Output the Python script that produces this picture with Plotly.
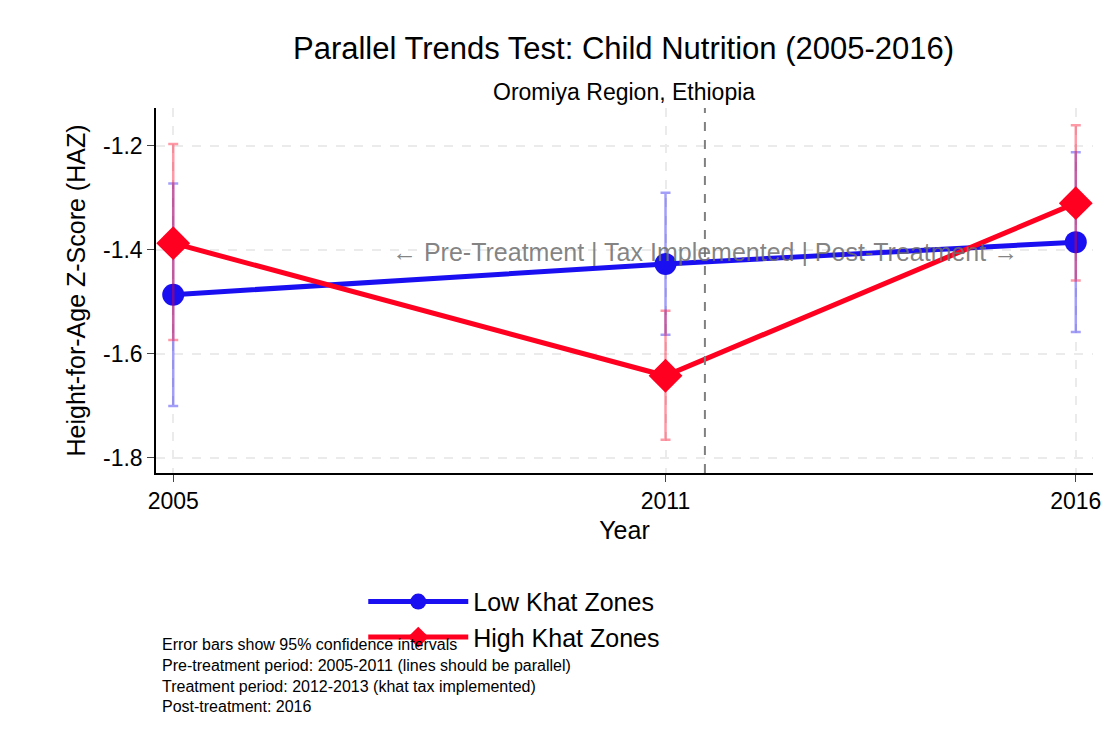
import plotly.graph_objects as go

years = [2005, 2011, 2016]
low_mean = [-1.486, -1.427, -1.385]
low_upper = [-1.272, -1.290, -1.212]
low_lower = [-1.700, -1.563, -1.558]
high_mean = [-1.387, -1.642, -1.310]
high_upper = [-1.196, -1.517, -1.160]
high_lower = [-1.573, -1.765, -1.459]

fig = go.Figure()


def add_series(mean, upper, lower, color, bar_color, symbol, size, name):
    fig.add_trace(go.Scatter(
        x=years, y=mean, mode="lines+markers", name=name,
        line=dict(color=color, width=5),
        marker=dict(color=color, symbol=symbol, size=size),
        error_y=dict(type="data", symmetric=False,
                     array=[u - m for u, m in zip(upper, mean)],
                     arrayminus=[m - l for m, l in zip(mean, lower)],
                     color=bar_color, thickness=2.5, width=5),
    ))


add_series(low_mean, low_upper, low_lower, "#1a0ff0", "rgba(26,15,240,0.4)",
           "circle", 22, "Low Khat Zones")
add_series(high_mean, high_upper, high_lower, "#ff0020", "rgba(255,0,32,0.4)",
           "diamond", 26, "High Khat Zones")

fig.add_vline(x=2011.48, line=dict(color="gray", dash="dash", width=2))
fig.add_annotation(x=2011.48, y=-1.404, text="← Pre-Treatment | Tax Implemented | Post-Treatment →",
                   showarrow=False, font=dict(size=25, color="rgba(110,110,110,0.85)"))

# titles (placed relative to plot area: left 148, width 937, top 100, height 365)
fig.add_annotation(x=0.499, xref="paper", y=1.164, yref="paper", text="Parallel Trends Test: Child Nutrition (2005-2016)",
                   showarrow=False, font=dict(size=31), yanchor="middle")
fig.add_annotation(x=0.499, xref="paper", y=1.044, yref="paper", text="Oromiya Region, Ethiopia",
                   showarrow=False, font=dict(size=23), yanchor="middle")

notes = ("Error bars show 95% confidence intervals<br>"
         "Pre-treatment period: 2005-2011 (lines should be parallel)<br>"
         "Treatment period: 2012-2013 (khat tax implemented)<br>"
         "Post-treatment: 2016")
fig.add_annotation(x=0.004, xref="paper", y=-0.44, yref="paper", text=notes, showarrow=False,
                   align="left", xanchor="left", yanchor="top", font=dict(size=16, color="black"))

fig.update_layout(
    width=1117, height=732, plot_bgcolor="white", paper_bgcolor="white",
    font=dict(family="Liberation Sans, Arial", color="black"),
    margin=dict(l=148, r=32, t=100, b=267, autoexpand=False),
    legend=dict(orientation="h", x=0.48, xanchor="center", y=-0.29, yanchor="top",
                font=dict(size=25), itemwidth=100, entrywidth=370),
    showlegend=True,
)
fig.update_xaxes(range=[2004.79, 2016.21], tickvals=years, ticks="outside", ticklen=7,
                 tickfont=dict(size=23), title=dict(text="Year", font=dict(size=25), standoff=8),
                 showline=True, linecolor="black", linewidth=1.5, automargin=False,
                 showgrid=True, gridcolor="#ebebeb", griddash="dash", gridwidth=2, zeroline=False)
fig.update_yaxes(range=[-1.829, -1.127], tickvals=[-1.8, -1.6, -1.4, -1.2], ticktext=["-1.8", "-1.6", "-1.4", "-1.2"],
                 ticks="outside", ticklen=7, tickfont=dict(size=23),
                 title=dict(text="Height-for-Age Z-Score (HAZ)", font=dict(size=25), standoff=10),
                 showline=True, linecolor="black", linewidth=1.5, automargin=False,
                 showgrid=True, gridcolor="#ebebeb", griddash="dash", gridwidth=2, zeroline=False)

fig.write_html("out.html")
